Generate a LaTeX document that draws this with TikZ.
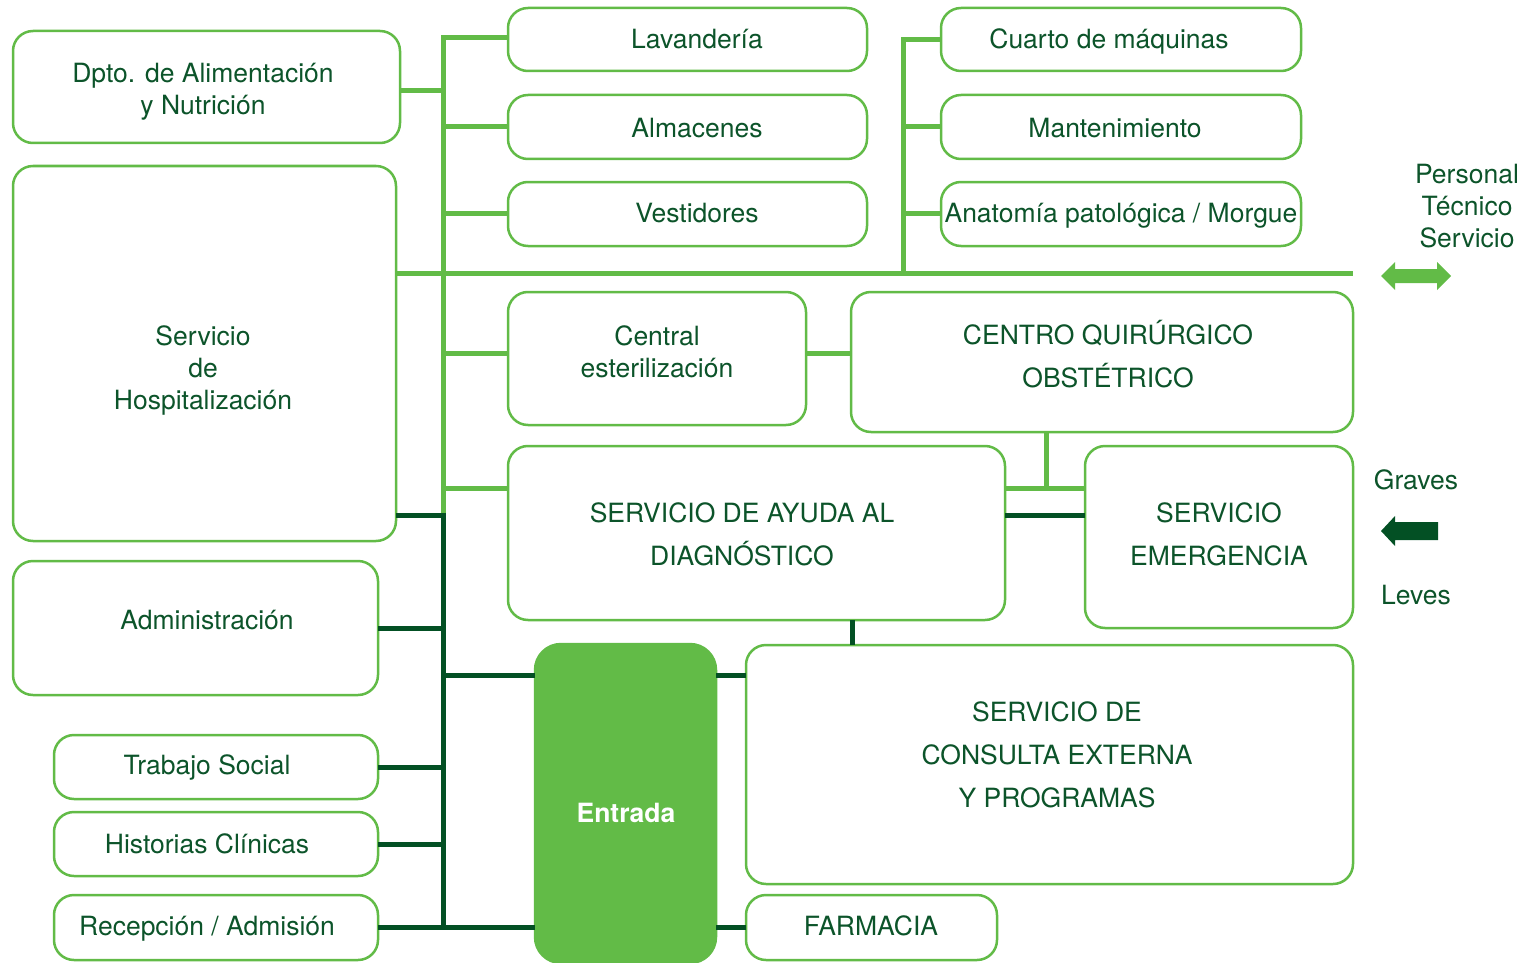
\documentclass[tikz,border=0pt]{standalone}
\usepackage{fontspec}
\setmainfont{TeX Gyre Heros}
\definecolor{lg}{RGB}{98,187,71}
\definecolor{dg}{RGB}{3,80,36}
\definecolor{tg}{RGB}{12,84,42}
\tikzset{
  box/.style={draw=lg, line width=2.5pt, rounded corners=20pt, fill=white, inner sep=0pt, outer sep=0pt, anchor=north west},
  txt/.style={text=tg, align=center, inner sep=0pt, text height=19pt, text depth=0pt, font=\fontsize{26.5}{32}\selectfont},
  captxt/.style={txt, font=\fontsize{26.5}{43}\selectfont},
  lline/.style={draw=lg, line width=5pt},
  dline/.style={draw=dg, line width=5pt},
}
\newcommand{\bx}[5]{\node[box, minimum width={(#4-#2)*1pt}, minimum height={(#5-#3)*1pt}] (#1) at (#2,#3) {};}
\begin{document}
\begin{tikzpicture}[x=1pt,y=-1pt]
\useasboundingbox (0,0) rectangle (1526,963);
% spine coordinates
\coordinate (sTop) at (443,38);
\coordinate (sMid) at (443,515);
\coordinate (sBot) at (443,927);
\coordinate (rTop) at (903,40);
\coordinate (rBot) at (903,273);
\coordinate (hEnd) at (1353,273);
% boxes
\bx{dpto}{13}{31}{400}{143}
\bx{hosp}{13}{166}{396}{541}
\bx{adm}{13}{561}{378}{695}
\bx{ts}{54}{735}{378}{799}
\bx{hc}{54}{812}{378}{876}
\bx{rec}{54}{895}{378}{960}
\bx{lav}{508}{8}{867}{71}
\bx{alm}{508}{95}{867}{159}
\bx{ves}{508}{182}{867}{246}
\bx{cuarto}{941}{8}{1301}{71}
\bx{mant}{941}{95}{1301}{159}
\bx{anat}{941}{182}{1301}{246}
\bx{cent}{508}{292}{806}{425}
\bx{cq}{851}{292}{1353}{432}
\bx{sad}{508}{446}{1005}{620}
\bx{emer}{1085}{446}{1353}{628}
\bx{cons}{746}{645}{1353}{884}
\bx{farm}{746}{895}{997}{960}
\node[box, draw=lg, fill=lg, rounded corners=26pt, minimum width=181pt, minimum height=319pt] (ent) at (535,644) {};
% light green connectors
\draw[lline] (lav.west |- sTop) -- (sTop) -- (sMid);
\draw[lline] (dpto.east |- 0,91) -- (443,91);
\draw[lline] (443,127) -- (alm.west |- 0,127);
\draw[lline] (443,213) -- (ves.west |- 0,213);
\draw[lline] (hosp.east |- hEnd) -- (hEnd);
\draw[lline] (443,353) -- (cent.west |- 0,353);
\draw[lline] (443,488) -- (sad.west |- 0,488);
\draw[lline] (cuarto.west |- rTop) -- (rTop) -- (rBot);
\draw[lline] (903,127) -- (mant.west |- 0,127);
\draw[lline] (903,213) -- (anat.west |- 0,213);
\draw[lline] (cent.east |- 0,353) -- (cq.west |- 0,353);
\draw[lline] (cq.south -| 1046,0) -- (1046,488);
\draw[lline] (sad.east |- 0,488) -- (emer.west |- 0,488);
% dark green connectors
\draw[dline] (hosp.east |- sMid) -- (sMid) -- (sBot) -- (ent.west |- sBot);
\draw[dline] (adm.east |- 0,628) -- (443,628);
\draw[dline] (443,675) -- (ent.west |- 0,675);
\draw[dline] (ts.east |- 0,767) -- (443,767);
\draw[dline] (hc.east |- 0,844) -- (443,844);
\draw[dline] (rec.east |- sBot) -- (sBot);
\draw[dline] (sad.east |- 0,515) -- (emer.west |- 0,515);
\draw[dline] (sad.south -| 852,0) -- (cons.north -| 852,0);
\draw[dline] (ent.east |- 0,675) -- (cons.west |- 0,675);
\draw[dline] (ent.east |- 0,927) -- (farm.west |- 0,927);
% texts (multi-line nodes are placed by their last line)
\node[txt] (t-dpto) at (203,105) {Dpto. de Alimentación\\y Nutrición};
\node[txt] (t-hosp) at (203,400) {Servicio\\de\\Hospitalización};
\node[txt] (t-adm) at (207,620) {Administración};
\node[txt] (t-ts) at (207,765) {Trabajo Social};
\node[txt] (t-hc) at (207,844) {Historias Clínicas};
\node[txt] (t-rec) at (207,926) {Recepción / Admisión};
\node[txt] (t-lav) at (697,39) {Lavandería};
\node[txt] (t-alm) at (697,128) {Almacenes};
\node[txt] (t-ves) at (697,213) {Vestidores};
\node[txt] (t-cuarto) at (1109,39) {Cuarto de máquinas};
\node[txt] (t-mant) at (1115,128) {Mantenimiento};
\node[txt] (t-anat) at (1121,213) {Anatomía patológica / Morgue};
\node[txt] (t-cent) at (657,368) {Central\\esterilización};
\node[captxt] (t-cq) at (1108,378) {CENTRO QUIRÚRGICO\\OBSTÉTRICO};
\node[captxt] (t-sad) at (742,556) {SERVICIO DE AYUDA AL\\DIAGNÓSTICO};
\node[captxt] (t-emer) at (1219,556) {SERVICIO\\EMERGENCIA};
\node[captxt] (t-cons) at (1057,798) {SERVICIO DE\\CONSULTA EXTERNA\\Y PROGRAMAS};
\node[txt] (t-farm) at (871,926) {FARMACIA};
\node[txt, text=white, font=\fontsize{26.5}{32}\selectfont\bfseries] (t-ent) at (626,813) {Entrada};
% legend
\node[txt] (t-pers) at (1467,238) {Personal\\Técnico\\Servicio};
\node[txt] (t-grav) at (1416,480) {Graves};
\node[txt] (t-lev) at (1416,595) {Leves};
\fill[lg] (1381,276) -- (1395,262) -- (1395,269) -- (1437,269) -- (1437,262) -- (1451,276) -- (1437,290) -- (1437,283) -- (1395,283) -- (1395,290) -- cycle;
\fill[dg] (1381,531) -- (1395,516) -- (1395,522) -- (1438,522) -- (1438,540) -- (1395,540) -- (1395,546) -- cycle;
\end{tikzpicture}
\end{document}
